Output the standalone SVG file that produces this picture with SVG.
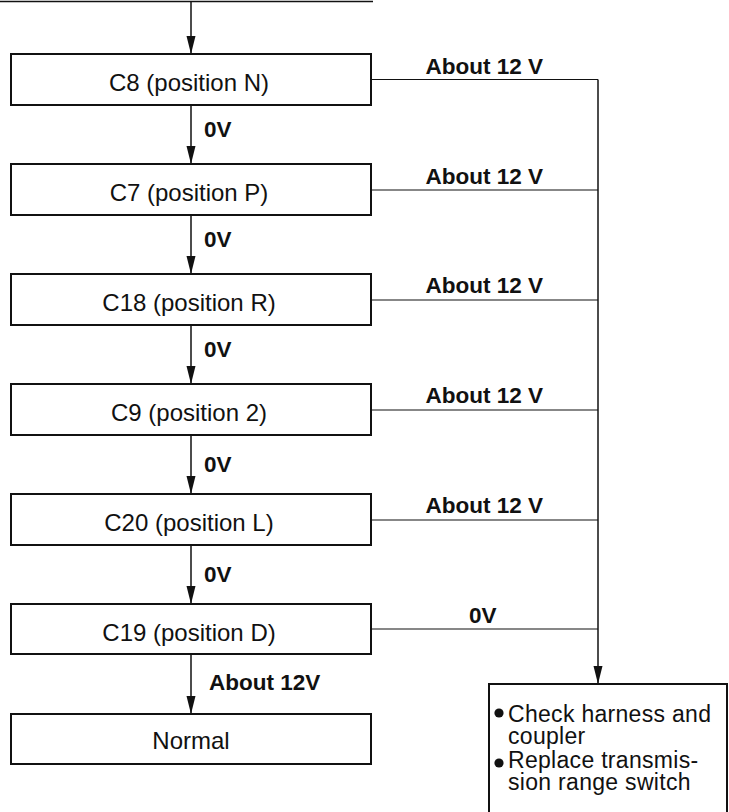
<svg xmlns="http://www.w3.org/2000/svg" width="729" height="812" viewBox="0 0 729 812">
  <style>
    .box { fill: #fff; stroke: #111; stroke-width: 2; }
    .line { fill: none; stroke: #111; stroke-width: 1.5; }
    .thin { fill: none; stroke: #111; stroke-width: 1.2; }
    .txt { font-family: "Liberation Sans", Arial, sans-serif; font-size: 24px; fill: #111; }
    .note { font-family: "Liberation Sans", Arial, sans-serif; font-size: 23px; letter-spacing: 0.3px; fill: #111; }
    .lbl { font-family: "Liberation Sans", Arial, sans-serif; font-size: 22.5px; font-weight: bold; fill: #111; }
    .dot { fill: #111; }
  </style>
  <defs>
    <marker id="arrowL" viewBox="0 0 18 10" refX="18" refY="5" markerWidth="18" markerHeight="10" markerUnits="userSpaceOnUse" orient="auto">
      <path d="M0,0.5 L18,5 L0,9.5 Z" fill="#111"/>
    </marker>
  </defs>

  <!-- connectors -->
  <g id="connectors">
    <path class="line" d="M0,1.5 H373"/>
    <path class="line" d="M191,1.5 V54" marker-end="url(#arrowL)"/>
    <path class="line" d="M191,105 V164" marker-end="url(#arrowL)"/>
    <path class="line" d="M191,215 V274" marker-end="url(#arrowL)"/>
    <path class="line" d="M191,325 V384" marker-end="url(#arrowL)"/>
    <path class="line" d="M191,435 V494" marker-end="url(#arrowL)"/>
    <path class="line" d="M191,545 V604" marker-end="url(#arrowL)"/>
    <path class="line" d="M191,654 V714" marker-end="url(#arrowL)"/>

    <path class="thin" d="M371,79.5 H598"/>
    <path class="thin" d="M371,190 H598"/>
    <path class="thin" d="M371,300 H598"/>
    <path class="thin" d="M371,410 H598"/>
    <path class="thin" d="M371,520 H598"/>
    <path class="thin" d="M371,629 H598"/>
    <path class="line" d="M598,79.5 V684" marker-end="url(#arrowL)"/>

    <text class="lbl" x="204" y="137">0V</text>
    <text class="lbl" x="204" y="247">0V</text>
    <text class="lbl" x="204" y="357">0V</text>
    <text class="lbl" x="204" y="472">0V</text>
    <text class="lbl" x="204" y="582">0V</text>
    <text class="lbl" x="209" y="690">About 12V</text>

    <text class="lbl" x="543" y="74" text-anchor="end">About 12 V</text>
    <text class="lbl" x="543" y="184" text-anchor="end">About 12 V</text>
    <text class="lbl" x="543" y="293" text-anchor="end">About 12 V</text>
    <text class="lbl" x="543" y="403" text-anchor="end">About 12 V</text>
    <text class="lbl" x="543" y="513" text-anchor="end">About 12 V</text>
    <text class="lbl" x="469" y="623">0V</text>
  </g>

  <!-- nodes -->
  <g id="c8">
    <rect class="box" x="11" y="54" width="360" height="51"/>
    <text class="txt" x="189" y="91" text-anchor="middle">C8 (position N)</text>
  </g>
  <g id="c7">
    <rect class="box" x="11" y="164" width="360" height="51"/>
    <text class="txt" x="189" y="201" text-anchor="middle">C7 (position P)</text>
  </g>
  <g id="c18">
    <rect class="box" x="11" y="274" width="360" height="51"/>
    <text class="txt" x="189" y="311" text-anchor="middle">C18 (position R)</text>
  </g>
  <g id="c9">
    <rect class="box" x="11" y="384" width="360" height="51"/>
    <text class="txt" x="189" y="421" text-anchor="middle">C9 (position 2)</text>
  </g>
  <g id="c20">
    <rect class="box" x="11" y="494" width="360" height="51"/>
    <text class="txt" x="189" y="531" text-anchor="middle">C20 (position L)</text>
  </g>
  <g id="c19">
    <rect class="box" x="11" y="604" width="360" height="50"/>
    <text class="txt" x="189" y="641" text-anchor="middle">C19 (position D)</text>
  </g>
  <g id="normal">
    <rect class="box" x="11" y="714" width="360" height="50"/>
    <text class="txt" x="191" y="749" text-anchor="middle">Normal</text>
  </g>
  <g id="check">
    <rect class="box" x="489" y="684" width="238" height="140"/>
    <circle class="dot" cx="499" cy="713" r="4.6"/>
    <text class="note" x="508" y="722">Check harness and</text>
    <text class="note" x="508" y="744">coupler</text>
    <circle class="dot" cx="499" cy="763" r="4.6"/>
    <text class="note" x="508" y="768">Replace transmis-</text>
    <text class="note" x="508" y="790">sion range switch</text>
  </g>
</svg>
